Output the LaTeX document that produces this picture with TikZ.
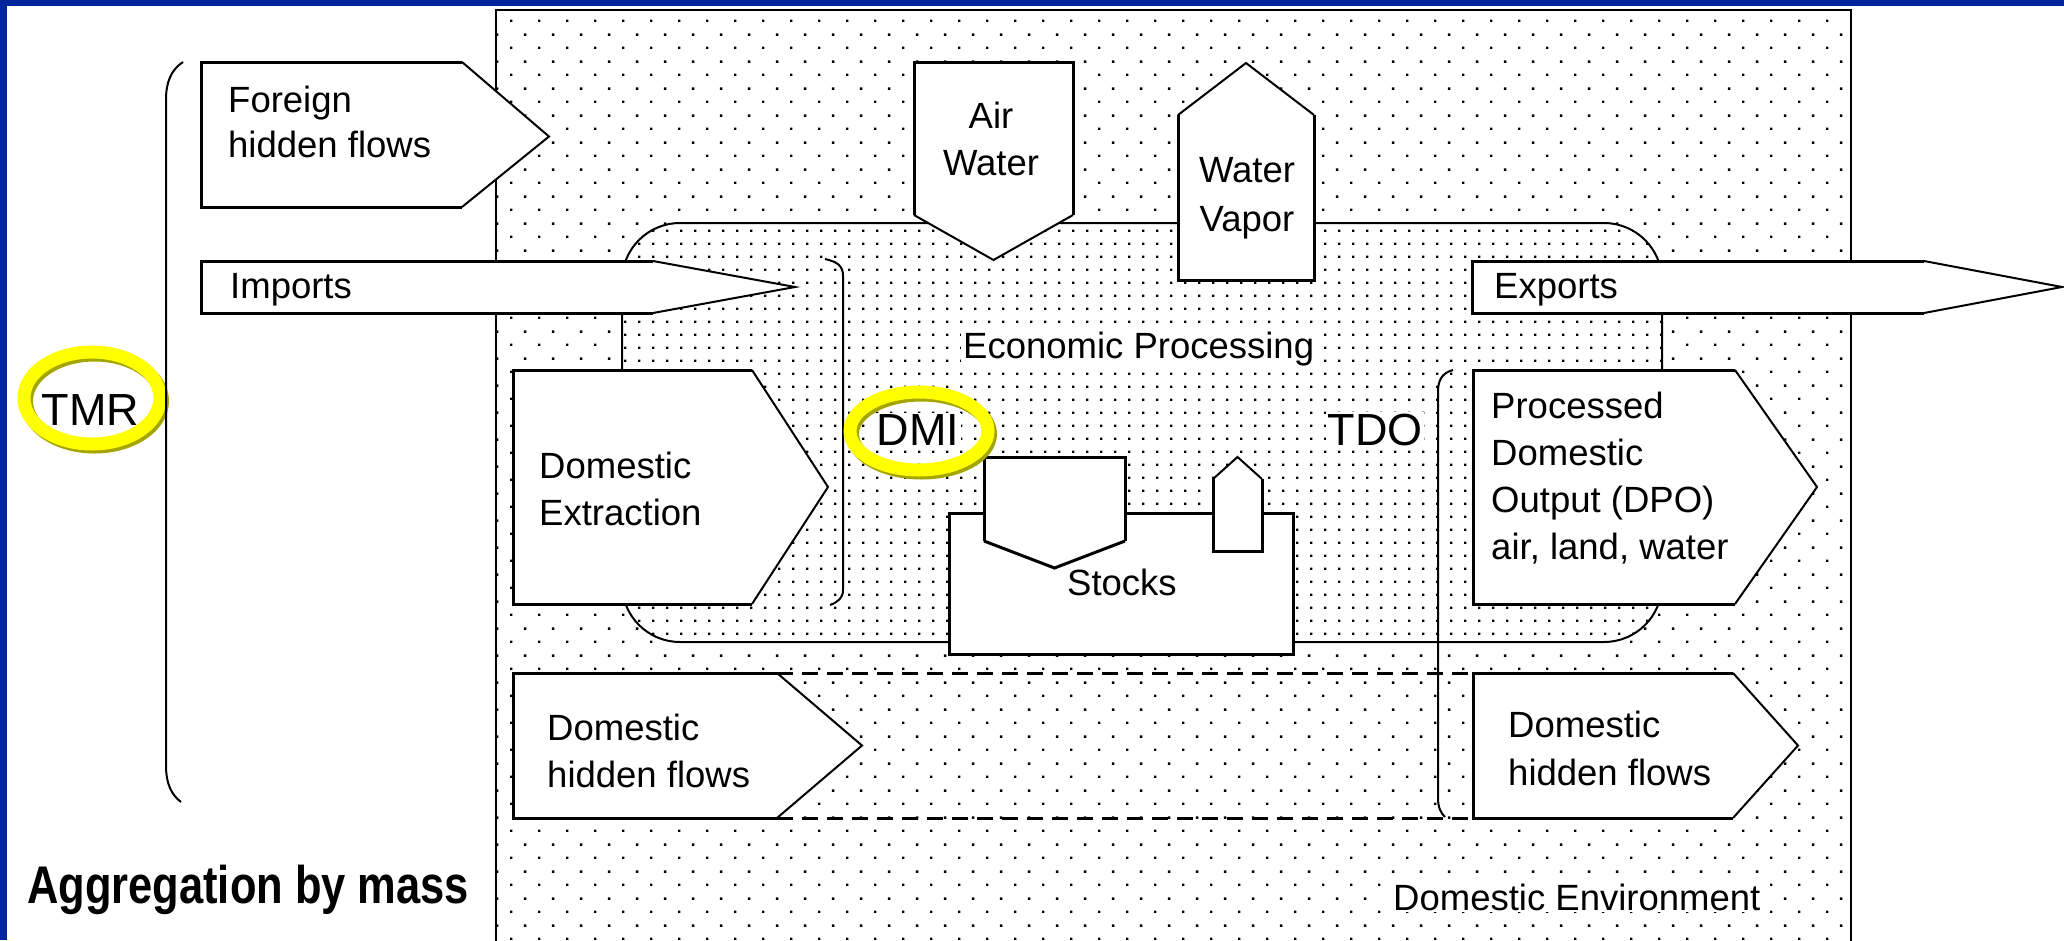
\documentclass[tikz,border=0pt]{standalone}
\usepackage{fontspec}
\setmainfont{Liberation Sans}
\usetikzlibrary{patterns}
\definecolor{frameblue}{RGB}{0,36,156}
\definecolor{ringyellow}{RGB}{255,255,0}
\definecolor{ringshade}{RGB}{165,165,0}
\pgfdeclarepatternformonly{sparsedots}{\pgfpointorigin}{\pgfqpoint{28.4pt}{26.6pt}}{\pgfqpoint{28.4pt}{26.6pt}}{%
  \pgfpathrectangle{\pgfqpoint{0pt}{0pt}}{\pgfqpoint{2.5pt}{2.5pt}}%
  \pgfpathrectangle{\pgfqpoint{14.2pt}{13.3pt}}{\pgfqpoint{2.5pt}{2.5pt}}%
  \pgfusepath{fill}}
\pgfdeclarepatternformonly{densedots}{\pgfpointorigin}{\pgfqpoint{14.2pt}{13.3pt}}{\pgfqpoint{14.2pt}{13.3pt}}{%
  \pgfpathrectangle{\pgfqpoint{0pt}{0pt}}{\pgfqpoint{2.5pt}{2.5pt}}%
  \pgfusepath{fill}}
% right-pointing flow box: x-left, y-top, x-body-end, x-tip, y-bottom, y-tip
\newcommand\rarrowbox[6]{%
  \fill[white] (#1,#2) -- (#3,#2) -- (#4,#6) -- (#3,#5) -- (#1,#5) -- cycle;
  \draw[boxedge] (#3,#2) -- (#1,#2) -- (#1,#5) -- (#3,#5);
  \draw[tipedge] (#3,#2) -- (#4,#6) -- (#3,#5);}
% vertical flow box: x-left, x-right, y-flat-end, y-side-end, x-tip, y-tip
\newcommand\vpentbox[6]{%
  \fill[white] (#1,#4) -- (#1,#3) -- (#2,#3) -- (#2,#4) -- (#5,#6) -- cycle;
  \draw[boxedge] (#1,#4) -- (#1,#3) -- (#2,#3) -- (#2,#4);
  \draw[tipedge] (#1,#4) -- (#5,#6) -- (#2,#4);}
\begin{document}
\begin{tikzpicture}[x=1pt,y=-1pt,
  boxedge/.style={line width=3pt},
  tipedge/.style={line width=2pt},
  thinline/.style={line width=2pt},
  lbl/.style={font=\fontsize{36.5}{44}\selectfont, inner sep=0pt, anchor=base west},
  bigl/.style={font=\fontsize{45}{54}\selectfont, inner sep=1.5pt, anchor=base west, fill=white},
  ring/.style={line width=13pt, draw=ringyellow},
  ringsh/.style={line width=13pt, draw=ringshade},
  bandline/.style={line width=3pt, dash pattern=on 16pt off 9pt}]
\useasboundingbox (0,0) rectangle (2064,940);
\clip (0,0) rectangle (2064,940);
\fill[white] (0,0) rectangle (2064,940);
\fill[frameblue] (0,0) rectangle (2064,6);
\fill[frameblue] (0,0) rectangle (7,940);

% Domestic environment
\fill[white] (496,10) rectangle (1851,950);
\path[pattern=sparsedots] (496,10) rectangle (1851,950);
\draw[line width=2.5pt] (496,950) -- (496,10) -- (1851,10) -- (1851,950);

% Economic processing region
\path[preaction={fill=white}, pattern=densedots, rounded corners=58pt] (622,223) rectangle (1662,642);
\draw[thinline, rounded corners=58pt] (622,223) rectangle (1662,642);

% flow boxes
\rarrowbox{201}{62}{462}{549}{207}{136.5}
\rarrowbox{201}{261}{653}{795}{313}{287}
\rarrowbox{1472}{261}{1924}{2062}{313}{287}
\rarrowbox{513}{370}{752}{828}{604}{487}
\rarrowbox{1473}{370}{1735}{1817}{604}{487}
\rarrowbox{513}{673}{777}{862}{818}{745.5}
\rarrowbox{1473}{673}{1733}{1798}{818}{745.5}
\vpentbox{914}{1073}{62}{215}{993.5}{260}
\vpentbox{1178}{1314}{280}{115}{1246}{63}

% stocks
\filldraw[fill=white, boxedge] (949,513) rectangle (1293,654);
\begin{scope}[tipedge/.style={line width=3pt}]
\vpentbox{984}{1125}{457}{541}{1054.5}{568}
\end{scope}
\vpentbox{1213}{1262}{551}{479}{1237.5}{457}

% hidden flows band
\draw[bandline] (777,673) -- (1473,673);
\draw[bandline] (777,818) -- (1473,818);

% brackets
\draw[thinline] (825,259) .. controls (838,262) and (843,266) .. (843,276) -- (843,590) .. controls (843,598) and (838,602) .. (830,605);
\draw[thinline] (1453,370) .. controls (1442,373) and (1438,380) .. (1438,392) -- (1438,798) .. controls (1438,808) and (1441,813) .. (1445,817);

% labels
\node[lbl] (fhf1) at (228,112) {Foreign};
\node[lbl] (fhf2) at (228,157) {hidden flows};
\node[lbl] (imp) at (230,298) {Imports};
\node[lbl, anchor=base] (aw1) at (991,128) {Air};
\node[lbl, anchor=base] (aw2) at (991,175) {Water};
\node[lbl, anchor=base] (wv1) at (1247,182) {Water};
\node[lbl, anchor=base] (wv2) at (1247,231) {Vapor};
\node[lbl, fill=white, inner sep=2pt] (econ) at (961,358) {Economic Processing};
\node[lbl] (de1) at (539,478) {Domestic};
\node[lbl] (de2) at (539,525) {Extraction};
\node[lbl] (stk) at (1067,595) {Stocks};
\node[lbl] (dpo1) at (1491,418) {Processed};
\node[lbl] (dpo2) at (1491,465) {Domestic};
\node[lbl] (dpo3) at (1491,512) {Output (DPO)};
\node[lbl] (dpo4) at (1491,559) {air, land, water};
\node[lbl] (dhfl1) at (547,740) {Domestic};
\node[lbl] (dhfl2) at (547,787) {hidden flows};
\node[lbl] (dhfr1) at (1508,737) {Domestic};
\node[lbl] (dhfr2) at (1508,785) {hidden flows};
\node[lbl] (exp) at (1494,298) {Exports};
\node[lbl, fill=white, inner sep=2pt] (env) at (1391,910) {Domestic Environment};
\node[bigl] (dmi) at (875,445) {DMI};
\node[bigl] (tdo) at (1326,445) {TDO};
\node[bigl] (tmr) at (40,425) {TMR};
\node[anchor=base west, inner sep=0pt, font=\fontsize{53}{60}\selectfont\bfseries] (agg) at (27,903) {\scalebox{0.82}[1]{Aggregation by mass}};

% highlight rings
\draw[ringsh] (921.5,434) ellipse [x radius=69, y radius=39];
\draw[ring] (919,431) ellipse [x radius=69, y radius=39];
\draw[ringsh] (94.5,401) ellipse [x radius=68, y radius=46];
\draw[ring] (92,398) ellipse [x radius=68, y radius=46];

% TMR brace
\draw[thinline] (183,62) .. controls (171,70) and (166,82) .. (166,100) -- (166,765) .. controls (166,785) and (172,795) .. (181,802);
\end{tikzpicture}
\end{document}
